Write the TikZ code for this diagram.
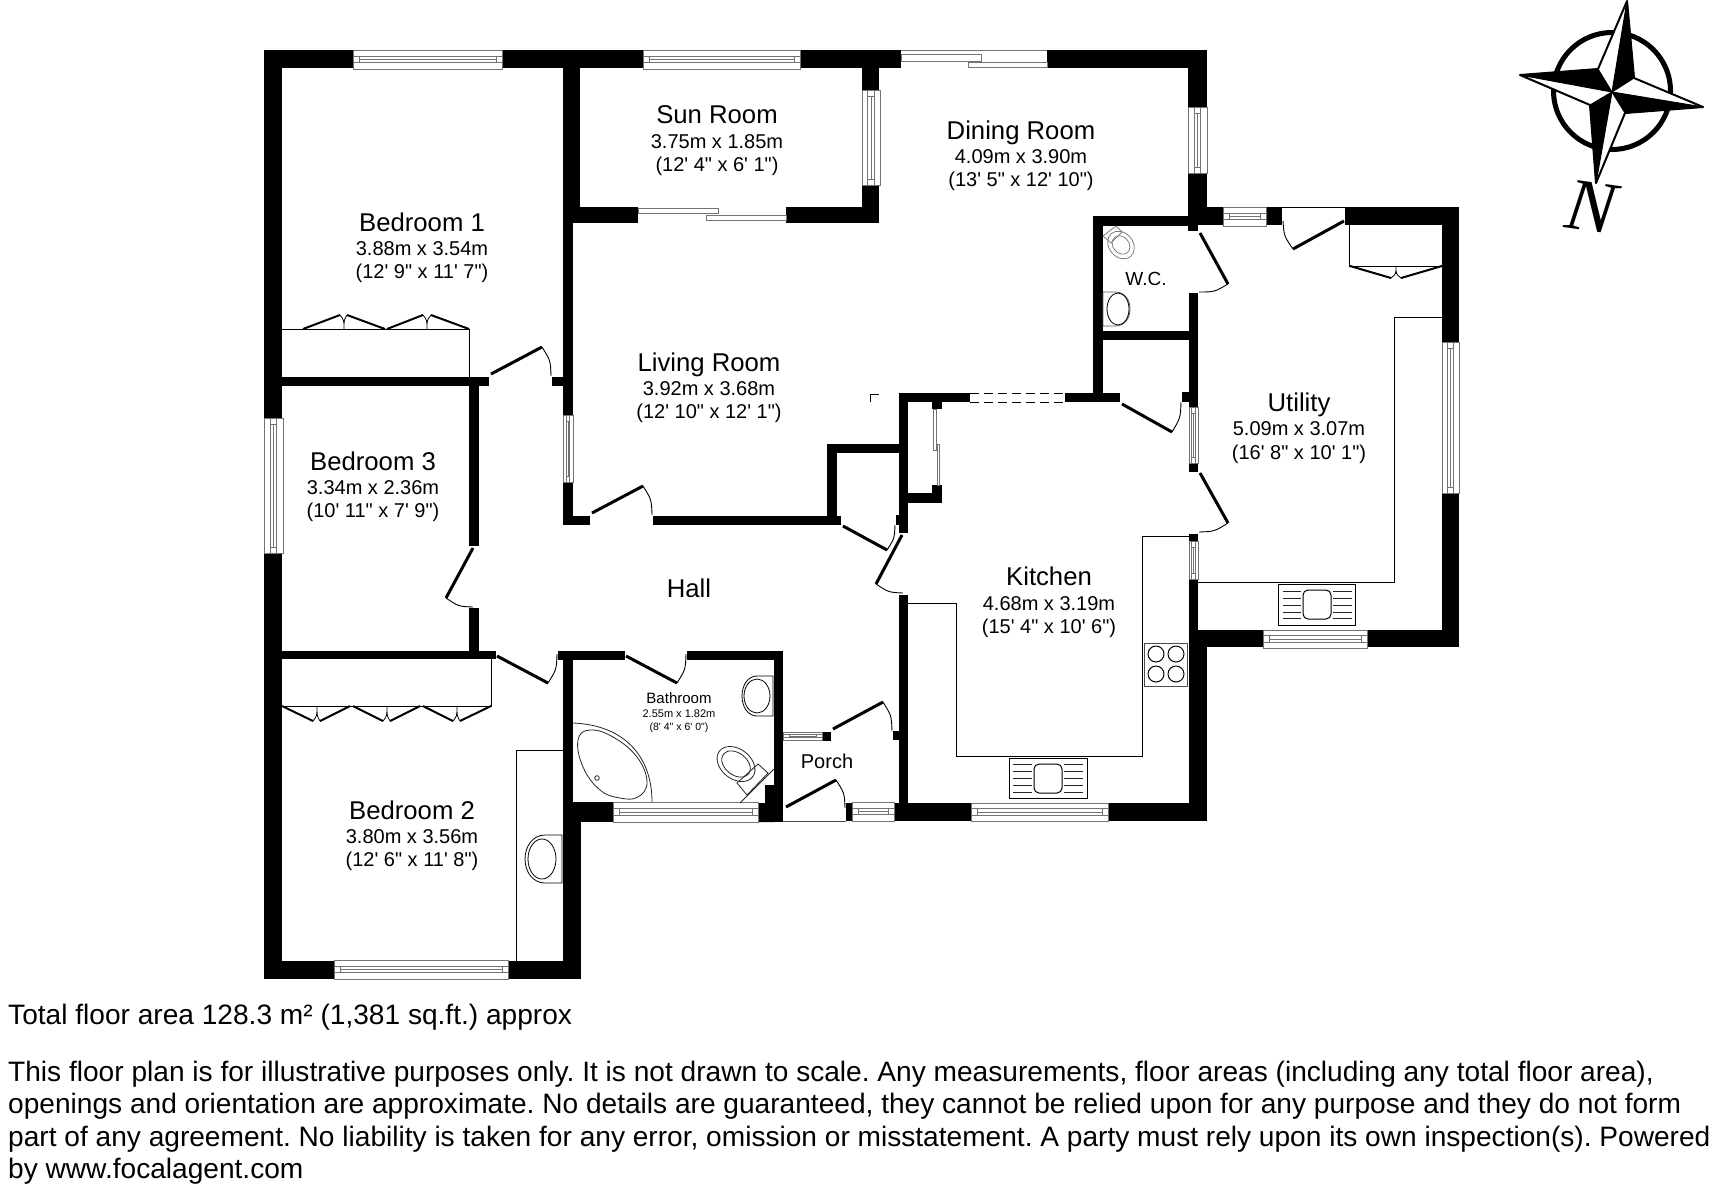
\documentclass[tikz,border=0pt]{standalone}
\usepackage{fontspec}
\usetikzlibrary{calc}
\setmainfont{Liberation Sans}[Ligatures=TeXOff]
\newfontfamily\serifN{Liberation Serif}
\tikzset{
  x=1pt,y=-1pt,
  wline/.style={draw=black!55,line width=1pt,fill=white},
  thin line/.style={draw=black,line width=1pt},
  leaf/.style={draw=black,line width=3pt},
  arcline/.style={draw=black,line width=.9pt},
  fit line/.style={draw=black!85,line width=1pt},
  roomname/.style={font=\fontsize{25.7}{25.7}\selectfont,inner sep=0pt,anchor=base},
  roomdim/.style={font=\fontsize{20}{20}\selectfont,inner sep=0pt,anchor=base},
  foot/.style={font=\fontsize{28.1}{28.1}\selectfont,anchor=base west,inner sep=0pt},
}
\newcommand\WallR[4]{\fill[black] (#1,#2) rectangle (#3,#4);}
\newcommand\WinH[4]{%
  \pgfmathsetmacro\wa{#3+(#4-#3)*0.33}\pgfmathsetmacro\wb{#3+(#4-#3)*0.5}\pgfmathsetmacro\wc{#3+(#4-#3)*0.67}%
  \pgfmathsetmacro\wl{#1+6}\pgfmathsetmacro\wr{#2-6}%
  \draw[wline] (#1,#3) rectangle (#2,#4);
  \draw[wline] (#1,\wa) rectangle (#2,\wc);
  \draw[wline] (\wl,\wa) -- (\wl,\wc) (\wr,\wa) -- (\wr,\wc) (\wl,\wb) -- (\wr,\wb);}
\newcommand\WinV[4]{%
  \pgfmathsetmacro\wa{#1+(#2-#1)*0.33}\pgfmathsetmacro\wb{#1+(#2-#1)*0.5}\pgfmathsetmacro\wc{#1+(#2-#1)*0.67}%
  \pgfmathsetmacro\wl{#3+6}\pgfmathsetmacro\wr{#4-6}%
  \draw[wline] (#1,#3) rectangle (#2,#4);
  \draw[wline] (\wa,#3) rectangle (\wc,#4);
  \draw[wline] (\wa,\wl) -- (\wc,\wl) (\wa,\wr) -- (\wc,\wr) (\wb,\wl) -- (\wb,\wr);}
\newcommand\DoorD[3]{%
  \draw[leaf] (#1) -- (#2);
  \draw[arcline] (#2) .. controls ($0.5359*(#2)+0.5359*(#3)-0.0718*(#1)$) .. (#3);}
\newcommand\RoomL[8]{%
  \node[roomname] (#1n) at (#2,#3) {#4};
  \node[roomdim] (#1d) at (#2,#5) {#6};
  \node[roomdim] (#1f) at (#2,#7) {#8};}
\newcommand\SinkU[8]{%
  \draw[thin line] (#1,#3) rectangle (#2,#4);
  \draw[thin line,rounded corners=5pt] (#5,#7) rectangle (#6,#8);}
\begin{document}
\frenchspacing
\begin{tikzpicture}
\useasboundingbox (0,0) rectangle (1712,1192);
\fill[white] (0,0) rectangle (1712,1192);

% fittings under walls
\draw[thin line] (282,329) -- (469,329) -- (469,377);
\draw[thin line] (282,706) -- (491,706) -- (491,659);
\draw[thin line] (1349,225) -- (1349,266) -- (1442,266);
\draw[thin line] (1442,317) -- (1394,317) -- (1394,582) -- (1198,582);
\draw[thin line] (1189,536) -- (1142,536) -- (1142,756) -- (956,756) -- (956,603) -- (908,603);
\draw[thin line] (516,961) -- (516,750) -- (563,750);
\draw[thin line,draw=black!70] (783,821) -- (846,821);

% top wall
\WallR{264}{50}{353}{68}
\WallR{502}{50}{643}{68}
\WallR{800}{50}{901}{68}
\WallR{1047}{50}{1207}{68}
% left wall
\WallR{264}{50}{282}{418}
\WallR{264}{553}{282}{979}
% bedroom 2 bottom
\WallR{264}{961}{334}{979}
\WallR{508}{961}{581}{979}
% bedroom 1/ sun
\WallR{563}{50}{580}{223}
\WallR{563}{207}{638}{223}
\WallR{563}{223}{573}{415}
\WallR{563}{482}{573}{525}
\WallR{563}{516}{590}{525}
\WallR{653}{516}{841}{525}
% sun right
\WallR{862}{68}{879}{90}
\WallR{862}{185}{879}{223}
\WallR{786}{207}{879}{223}
% bedroom walls
\WallR{264}{377}{489}{386}
\WallR{552}{377}{563}{386}
\WallR{469}{386}{479}{546}
\WallR{469}{608}{479}{651}
\WallR{264}{651}{496}{659}
\WallR{558}{651}{625}{660}
\WallR{687}{651}{783}{660}
\WallR{563}{651}{573}{802}
\WallR{563}{802}{613}{822}
\WallR{563}{802}{581}{979}
% bathroom right
\WallR{774}{651}{783}{822}
\fill[black] (758,803) -- (765,803) -- (765,785) -- (774,785) -- (774,822) -- (758,822) -- cycle;
% porch
\WallR{822}{732}{831}{741}
\WallR{893}{731}{899}{740}
\WallR{846}{803}{852}{821}
% kitchen
\WallR{899}{393}{908}{533}
\WallR{899}{595}{908}{803}
\WallR{896}{515}{899}{525}
\WallR{894}{803}{971}{821}
\WallR{1108}{803}{1207}{821}
\WallR{899}{393}{970}{402}
\WallR{1065}{393}{1120}{402}
\WallR{1093}{216}{1103}{393}
\WallR{827}{444}{899}{453}
\WallR{827}{444}{837}{520}
\WallR{932}{402}{942}{409}
\WallR{932}{485}{942}{503}
\WallR{908}{493}{942}{503}
% W.C. and utility
\WallR{1093}{216}{1198}{226}
\WallR{1188}{50}{1207}{107}
\WallR{1188}{173}{1207}{225}
\WallR{1188}{225}{1198}{231}
\WallR{1207}{207}{1223}{225}
\WallR{1266}{207}{1282}{225}
\WallR{1345}{207}{1459}{225}
\WallR{1442}{207}{1459}{342}
\WallR{1442}{493}{1459}{647}
\WallR{1189}{630}{1263}{647}
\WallR{1367}{630}{1459}{647}
\WallR{1189}{293}{1198}{407}
\WallR{1182}{392}{1189}{402}
\WallR{1189}{463}{1198}{472}
\WallR{1189}{534}{1198}{541}
\WallR{1189}{579}{1198}{630}
\WallR{1093}{331}{1189}{340}
\WallR{1189}{630}{1207}{821}

% windows
\WinH{353}{502}{50}{69}
\WinH{643}{800}{50}{69}
\WinH{334}{508}{960}{979}
\WinH{613}{758}{802}{822}
\WinH{971}{1108}{803}{821}
\WinH{1263}{1367}{630}{648}
\WinH{1223}{1266}{207}{226}
\WinH{783}{822}{732}{740}
\WinH{852}{894}{802}{821}
\WinV{264}{283}{418}{553}
\WinV{862}{880}{90}{185}
\WinV{1188}{1207}{107}{173}
\WinV{1442}{1459}{342}{493}
\WinV{563}{573}{415}{482}
\WinV{1189}{1198}{407}{463}
\WinV{1189}{1198}{541}{579}

% sliding doors
\draw[wline] (901,50) -- (1047,50);
\draw[wline] (901,54) rectangle (981,61);
\draw[wline] (968,62) rectangle (1047,67);
\draw[wline] (638,208) rectangle (718,213);
\draw[wline] (706,215) rectangle (786,220);
\draw[wline] (933,409) rectangle (936,450);
\draw[wline] (937,444) rectangle (939,485);
% opening lines
\draw[thin line,dash pattern=on 9pt off 5pt] (970,393) -- (1065,393) (970,402) -- (1065,402);
\draw[thin line] (870,402) -- (870,394) -- (879,394);
\draw[thin line] (1282,207) -- (1345,207);

% doors
\DoorD{491,374}{542,347}{551,376}
\DoorD{592,513}{643,486}{652,515}
\DoorD{473,548}{446,598}{473,607}
\DoorD{497,656}{548,683}{557,654}
\DoorD{626,656}{677,683}{686,654}
\DoorD{833,729}{883,702}{892,731}
\DoorD{786,807}{836,780}{845,808}
\DoorD{843,526}{887,550}{895,525}
\DoorD{902,535}{876,584}{903,593}
\DoorD{1122,404}{1172,432}{1181,402}
\DoorD{1200,233}{1228,284}{1199,292}
\DoorD{1200,473}{1228,523}{1199,532}
\DoorD{1344,221}{1293,249}{1283,221}

% bifold wardrobes
\draw[line width=2pt] (303,329) -- (340,315) (347,315) -- (385,329) (387,329) -- (423,315) (431,315) -- (469,329);
\draw[line width=.8pt] (340,315) .. controls (344,320) .. (344,329) .. controls (344,320) .. (347,315)
  (423,315) .. controls (427,320) .. (427,329) .. controls (427,320) .. (431,315);
\draw[line width=2pt] (282,706) -- (313,721) (320,721) -- (350,706) (353,706) -- (383,721) (390,721) -- (420,706) (423,706) -- (453,721) (460,721) -- (491,706);
\draw[line width=.8pt] (313,721) .. controls (317,716) .. (317,706) .. controls (317,716) .. (320,721)
  (383,721) .. controls (387,716) .. (387,706) .. controls (387,716) .. (390,721)
  (453,721) .. controls (457,716) .. (457,706) .. controls (457,716) .. (460,721);
\draw[line width=2pt] (1350,266) -- (1391,278) (1401,278) -- (1442,266);
\draw[line width=.8pt] (1391,278) .. controls (1396,274) .. (1396,266) .. controls (1396,274) .. (1401,278);

% sinks
\SinkU{1278}{1355}{584}{625}{1303}{1331}{590}{619}
\foreach \y in {591,598,605,612,618} {\draw[fit line] (1283,\y) -- (1301,\y) (1333,\y) -- (1352,\y);}
\SinkU{1009}{1087}{758}{798}{1034}{1062}{764}{793}
\foreach \y in {764,771,778,785,792} {\draw[fit line] (1013,\y) -- (1032,\y) (1064,\y) -- (1083,\y);}
% hob
\draw[thin line,draw=black!70] (1144,643) rectangle (1187,686);
\foreach \p in {(1156,654),(1176,654),(1156,674),(1176,674)} {\draw[thin line] \p circle [radius=8pt];}

% basins
\draw[thin line,line width=.8pt] (562,835) -- (545,835) .. controls (533,835) and (525,846) .. (525,859) .. controls (525,872) and (533,883) .. (545,883) -- (562,883) -- cycle;
\draw[thin line,line width=.8pt] (542,859) ellipse [x radius=14pt,y radius=20pt];
\draw[thin line,line width=.8pt] (773,676) -- (757,676) .. controls (748,676) and (742,685) .. (742,696) .. controls (742,707) and (748,716) .. (757,716) -- (773,716) -- cycle;
\draw[thin line,line width=.8pt] (757,696) ellipse [x radius=13pt,y radius=17pt];
\draw[thin line,draw=black!65,line width=.8pt] (1103,292) -- (1115,292) .. controls (1125,292) and (1130,300) .. (1130,309) .. controls (1130,318) and (1125,326) .. (1115,326) -- (1103,326) -- cycle;
\draw[thin line,line width=.8pt] (1118,309) ellipse [x radius=11pt,y radius=16pt];

% toilets
\draw[fit line,line width=.8pt] (737,783) -- (758,764) -- (768,773) -- (747,795) -- cycle;
\draw[fit line,line width=.8pt] (740,803) -- (774,769);
\draw[fit line,line width=.8pt,rotate around={-38:(736,764)}] (736,764) ellipse [x radius=21pt,y radius=15pt];
\draw[fit line,line width=.8pt,rotate around={-38:(736,764)}] (736,764) ellipse [x radius=16pt,y radius=11pt];
\draw[fit line,draw=black!50,line width=.8pt] (1103,236) -- (1116,226) -- (1122,232) -- (1111,243) -- cycle;
\draw[fit line,draw=black!50,line width=.8pt,rotate around={-50:(1121,245)}] (1121,245) ellipse [x radius=15pt,y radius=12pt];
\draw[fit line,draw=black!50,line width=.8pt,rotate around={-50:(1121,245)}] (1121,245) ellipse [x radius=10pt,y radius=8pt];

% bath
\draw[fit line,line width=.8pt] (573,723) .. controls (623,725) and (652,755) .. (652,802);
\draw[fit line,line width=.8pt] plot[smooth cycle,tension=.7] coordinates {(578,740) (590,730) (613,737) (637,757) (647,782) (638,797) (620,798) (600,790) (583,767)};
\draw[fit line,line width=.8pt] (597,778) circle [radius=2.3pt];

% compass
\fill[black,even odd rule] (1612,91) circle [radius=61pt] (1612,91) circle [radius=56pt];
\filldraw[fill=white,draw=black,line width=2pt,line join=round] (1627,1) -- (1634,78) -- (1703,107) -- (1625,113) -- (1596,183) -- (1590,105) -- (1520,75) -- (1598,69) -- cycle;
\fill[black,draw=black,line width=1pt,line join=round] (1612,92) -- (1627,1) -- (1634,78) -- cycle;
\fill[black,draw=black,line width=1pt,line join=round] (1612,92) -- (1520,75) -- (1598,69) -- cycle;
\fill[black,draw=black,line width=1pt,line join=round] (1612,92) -- (1596,183) -- (1590,105) -- cycle;
\fill[black,draw=black,line width=1pt,line join=round] (1612,92) -- (1703,107) -- (1625,113) -- cycle;
\node[inner sep=0pt,rotate=-8] (northN) at (1591,207) {\serifN\itshape\fontsize{74}{74}\selectfont N};

% room labels (baselines)
\RoomL{bedone}{422}{231}{Bedroom 1}{255}{3.88m x 3.54m}{278}{(12' 9" x 11' 7")}
\RoomL{sun}{717}{123}{Sun Room}{148}{3.75m x 1.85m}{171}{(12' 4" x 6' 1")}
\RoomL{dining}{1021}{139}{Dining Room}{163}{4.09m x 3.90m}{186}{(13' 5" x 12' 10")}
\RoomL{living}{709}{371}{Living Room}{395}{3.92m x 3.68m}{418}{(12' 10" x 12' 1")}
\RoomL{bedthree}{373}{470}{Bedroom 3}{494}{3.34m x 2.36m}{517}{(10' 11" x 7' 9")}
\RoomL{bedtwo}{412}{819}{Bedroom 2}{843}{3.80m x 3.56m}{866}{(12' 6" x 11' 8")}
\RoomL{kitchen}{1049}{585}{Kitchen}{610}{4.68m x 3.19m}{633}{(15' 4" x 10' 6")}
\RoomL{utility}{1299}{411}{Utility}{435}{5.09m x 3.07m}{459}{(16' 8" x 10' 1")}
\node[roomname] (hall) at (689,597) {Hall};
\node[inner sep=0pt,anchor=base,font=\fontsize{15}{15}\selectfont] (bath) at (679,703) {Bathroom};
\node[inner sep=0pt,anchor=base,font=\fontsize{11}{11}\selectfont] (bathd) at (679,717) {2.55m x 1.82m};
\node[inner sep=0pt,anchor=base,font=\fontsize{10.5}{10.5}\selectfont] (bathf) at (679,730) {(8' 4" x 6' 0")};
\node[inner sep=0pt,anchor=base,font=\fontsize{19}{19}\selectfont] (wc) at (1146,285) {W.C.};
\node[inner sep=0pt,anchor=base,font=\fontsize{20}{20}\selectfont] (porch) at (827,768) {Porch};

% footer
\node[foot] (total) at (8,1024) {Total floor area 128.3 m² (1,381 sq.ft.) approx};
\node[foot] (fa) at (8,1081) {This floor plan is for illustrative purposes only. It is not drawn to scale. Any measurements, floor areas (including any total floor area),};
\node[foot] (fb) at (8,1113) {openings and orientation are approximate. No details are guaranteed, they cannot be relied upon for any purpose and they do not form};
\node[foot] (fc) at (8,1146) {part of any agreement. No liability is taken for any error, omission or misstatement. A party must rely upon its own inspection(s). Powered};
\node[foot] (fd) at (8,1178) {by www.focalagent.com};
\end{tikzpicture}
\end{document}
